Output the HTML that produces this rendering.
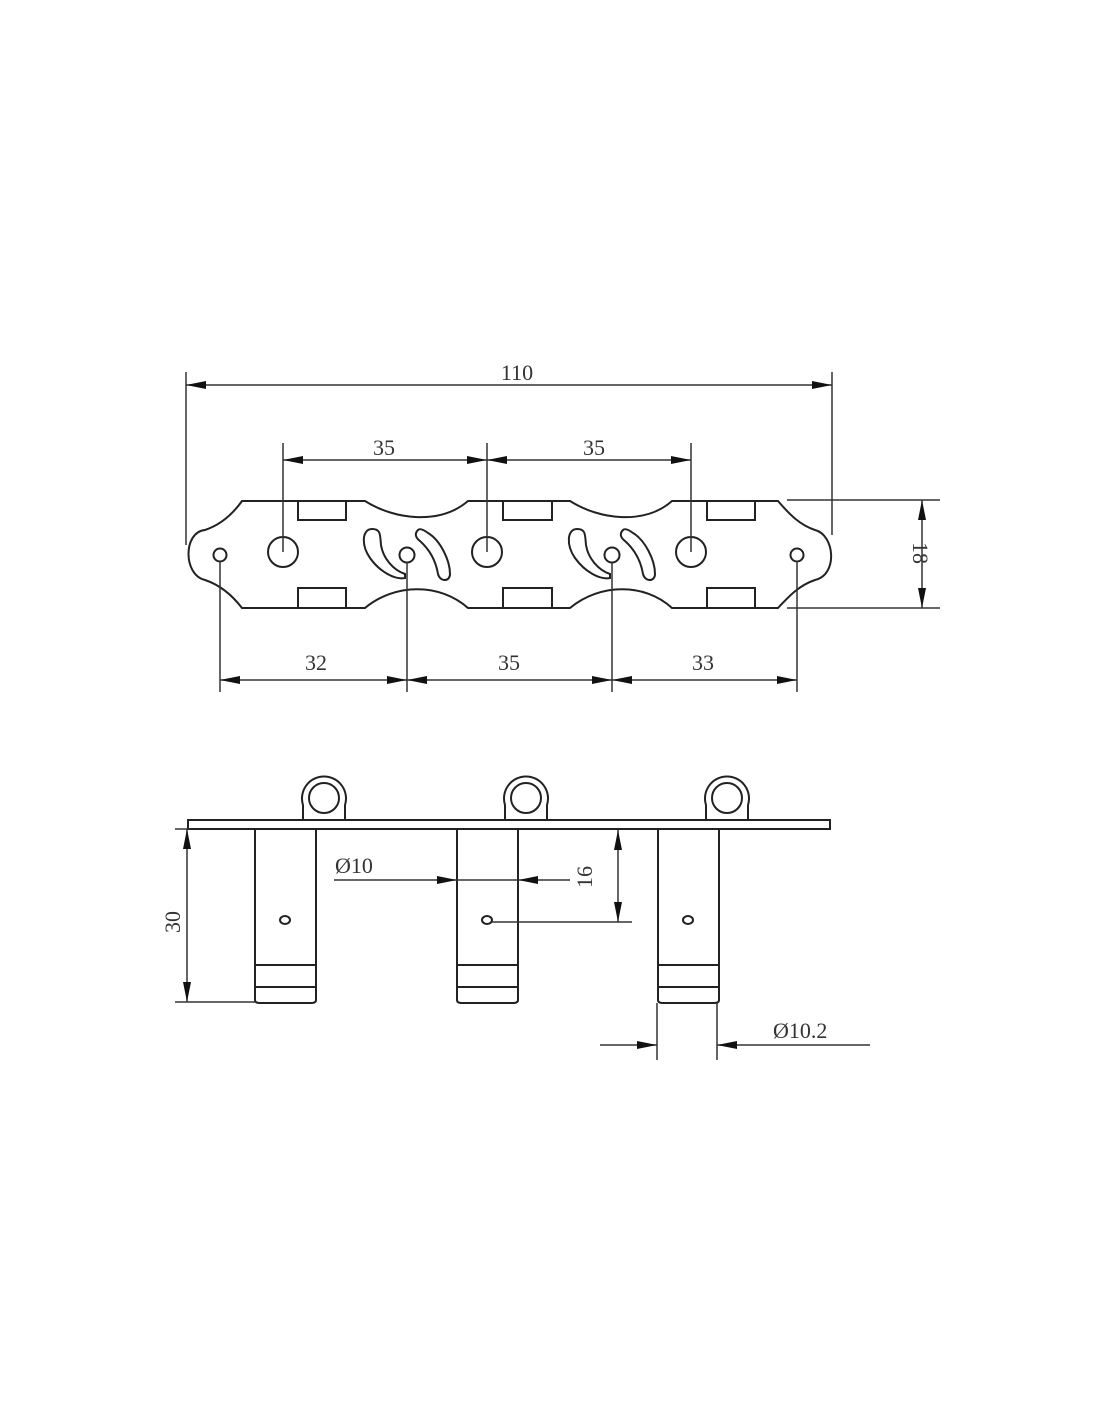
<!DOCTYPE html>
<html><head><style>html,body{margin:0;padding:0;background:#fff}svg{display:block}text{font-family:"Liberation Serif",serif;font-size:22px;fill:#333}</style></head>
<body>
<svg width="1100" height="1422" viewBox="0 0 1100 1422" xmlns="http://www.w3.org/2000/svg">
<defs>
<marker id="a" viewBox="0 0 20 8" refX="20" refY="4" markerWidth="20" markerHeight="8" markerUnits="userSpaceOnUse" orient="auto-start-reverse"><path d="M0,0 L20,4 L0,8 Z" fill="#111"/></marker>
</defs>
<g fill="none" stroke="#222" stroke-width="2">
<!-- plate outline -->
<path d="M242,501 L365,501 C395,520 440,525 468,501 L570,501 C600,520 645,525 672,501 L778,501 C790,515 800,525 815,530 C835,535 838,575 815,580 C800,585 790,595 778,608 L672,608 C645,583 600,583 570,608 L468,608 C440,583 395,583 365,608 L242,608 C232,595 220,585 205,580 C183,575 183,532 205,530 C220,525 232,515 242,501 Z"/>
<rect x="298" y="501" width="48" height="19"/><rect x="298" y="588" width="48" height="20"/>
<rect x="503" y="501" width="49" height="19"/><rect x="503" y="588" width="49" height="20"/>
<rect x="707" y="501" width="48" height="19"/><rect x="707" y="588" width="48" height="20"/>
<circle cx="283" cy="552" r="15"/><circle cx="487" cy="552" r="15"/><circle cx="691" cy="552" r="15"/>
<circle cx="220" cy="555" r="6.5"/><circle cx="407" cy="555" r="7.5"/><circle cx="612" cy="555" r="7.5"/><circle cx="797" cy="555" r="6.5"/>
<path d="M372,529 C362,529 361,545 370,558 C380,572 395,580 405,578 L405,574 C393,570 383,558 381,545 C380,535 381,529 372,529 Z"/>
<path d="M418,530 C414,534 416,538 420,541 C430,550 436,562 438,574 C440,582 450,582 450,574 C450,560 440,540 428,533 C424,530 420,528 418,530 Z"/>
<g transform="translate(205,0)">
<path d="M372,529 C362,529 361,545 370,558 C380,572 395,580 405,578 L405,574 C393,570 383,558 381,545 C380,535 381,529 372,529 Z"/>
<path d="M418,530 C414,534 416,538 420,541 C430,550 436,562 438,574 C440,582 450,582 450,574 C450,560 440,540 428,533 C424,530 420,528 418,530 Z"/>
</g>
</g>
<!-- dimensions top -->
<g stroke="#333" stroke-width="1.5" fill="none">
<line x1="186" y1="372" x2="186" y2="545"/><line x1="832" y1="372" x2="832" y2="535"/>
<line x1="186" y1="385" x2="832" y2="385" marker-start="url(#a)" marker-end="url(#a)"/>
<line x1="283" y1="443" x2="283" y2="552"/><line x1="487" y1="443" x2="487" y2="552"/><line x1="691" y1="443" x2="691" y2="552"/>
<line x1="283" y1="460" x2="487" y2="460" marker-start="url(#a)" marker-end="url(#a)"/>
<line x1="487" y1="460" x2="691" y2="460" marker-start="url(#a)" marker-end="url(#a)"/>
<line x1="787" y1="500" x2="940" y2="500"/><line x1="787" y1="608" x2="940" y2="608"/>
<line x1="922" y1="500" x2="922" y2="608" marker-start="url(#a)" marker-end="url(#a)"/>
<line x1="220" y1="561" x2="220" y2="692"/><line x1="407" y1="562" x2="407" y2="692"/><line x1="612" y1="562" x2="612" y2="692"/><line x1="797" y1="561" x2="797" y2="692"/>
<line x1="220" y1="680" x2="407" y2="680" marker-start="url(#a)" marker-end="url(#a)"/>
<line x1="407" y1="680" x2="612" y2="680" marker-start="url(#a)" marker-end="url(#a)"/>
<line x1="612" y1="680" x2="797" y2="680" marker-start="url(#a)" marker-end="url(#a)"/>
</g>
<text x="517" y="380" text-anchor="middle">110</text>
<text x="384" y="455" text-anchor="middle">35</text>
<text x="594" y="455" text-anchor="middle">35</text>
<text x="316" y="670" text-anchor="middle">32</text>
<text x="509" y="670" text-anchor="middle">35</text>
<text x="703" y="670" text-anchor="middle">33</text>
<text x="0" y="0" text-anchor="middle" transform="translate(913,553) rotate(90)">18</text>
<!-- side view -->
<g fill="none" stroke="#222" stroke-width="2">
<rect x="188" y="820" width="642" height="9"/>
<g id="p">
<path d="M303,820 L303,805 A22,22 0 1 1 345,805 L345,820"/>
<circle cx="324" cy="798" r="15"/>
<path d="M255,829 L255,1000 Q255,1003 260,1003 L311,1003 Q316,1003 316,1000 L316,829"/>
<line x1="255" y1="965" x2="316" y2="965"/><line x1="255" y1="987" x2="316" y2="987"/>
<ellipse cx="285" cy="920" rx="5" ry="4"/>
</g>
<use href="#p" transform="translate(202,0)"/>
<use href="#p" transform="translate(403,0)"/>
</g>
<g stroke="#333" stroke-width="1.5" fill="none">
<line x1="175" y1="829" x2="190" y2="829"/>
<line x1="175" y1="1002" x2="255" y2="1002"/>
<line x1="187" y1="829" x2="187" y2="1002" marker-start="url(#a)" marker-end="url(#a)"/>
<line x1="334" y1="880" x2="457" y2="880" marker-end="url(#a)"/>
<line x1="570" y1="880" x2="518" y2="880" marker-end="url(#a)"/>
<line x1="457" y1="880" x2="518" y2="880"/>
<line x1="491" y1="922" x2="632" y2="922"/>
<line x1="618" y1="830" x2="618" y2="922" marker-start="url(#a)" marker-end="url(#a)"/>
<line x1="657" y1="1003" x2="657" y2="1060"/><line x1="717" y1="1003" x2="717" y2="1060"/>
<line x1="600" y1="1045" x2="657" y2="1045" marker-end="url(#a)"/>
<line x1="870" y1="1045" x2="717" y2="1045" marker-end="url(#a)"/>
</g>
<text x="335" y="873">Ø10</text>
<text x="0" y="0" text-anchor="middle" transform="translate(592,877) rotate(-90)">16</text>
<text x="0" y="0" text-anchor="middle" transform="translate(180,922) rotate(-90)">30</text>
<text x="773" y="1038">Ø10.2</text>
</svg>
</body></html>
